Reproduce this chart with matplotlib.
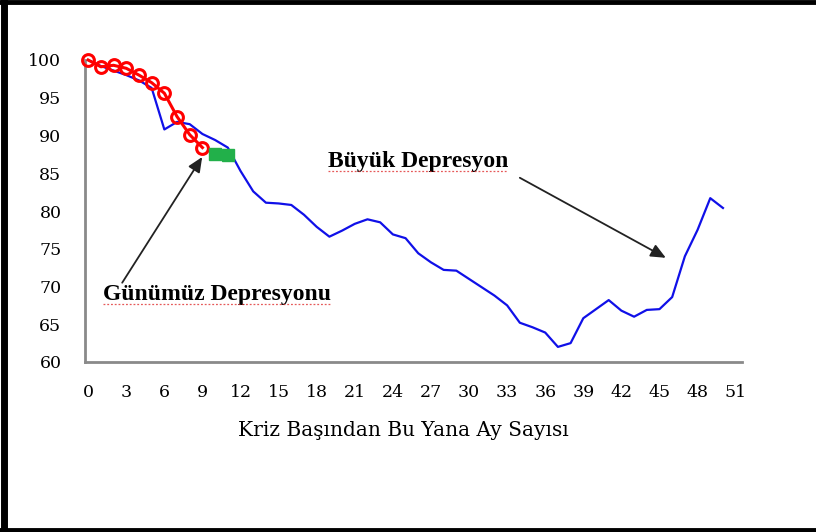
import matplotlib
matplotlib.use("Agg")
import matplotlib.pyplot as plt
from matplotlib.lines import Line2D

# ---- data ----
months_great = list(range(0, 51))
great_depression = [100, 99.2, 98.6, 98.0, 97.3, 96.3, 90.8, 91.8, 91.5, 90.2,
                    89.4, 88.4, 85.3, 82.6, 81.1, 81.0, 80.8, 79.5, 77.9, 76.6,
                    77.4, 78.3, 78.9, 78.5, 76.9, 76.4, 74.4, 73.2, 72.2, 72.1,
                    71.0, 69.9, 68.8, 67.5, 65.2, 64.6, 63.9, 62.0, 62.5, 65.8,
                    67.0, 68.2, 66.8, 66.0, 66.9, 67.0, 68.6, 74.0, 77.5, 81.7,
                    80.4]
months_current = list(range(0, 10))
current_depression = [100, 99.1, 99.3, 98.9, 98.0, 97.0, 95.6, 92.5, 90.1, 88.4]
months_recent = [10, 11]
recent_values = [87.6, 87.4]

x_ticks = list(range(0, 52, 3))
y_ticks = [60, 65, 70, 75, 80, 85, 90, 95, 100]
x_label = "Kriz Başından Bu Yana Ay Sayısı"
label_current = "Günümüz Depresyonu"
label_great = "Büyük Depresyon"

serif = ["DejaVu Serif"]
serif_b = ["Liberation Serif", "DejaVu Serif"]

fig = plt.figure(figsize=(8.16, 5.32), dpi=100)
ax = fig.add_axes([85/816, 1-362/532, (742-85)/816, (362-60)/532])

ax.plot(months_great, great_depression, color="#1010e8", lw=1.6, zorder=2)
ax.plot(months_current, current_depression, color="#ff0000", lw=2.2,
        marker="o", markersize=8.5, markerfacecolor="none",
        markeredgecolor="#ff0000", markeredgewidth=2.2, zorder=3, clip_on=False)
ax.plot(months_recent, recent_values, color="#22b04a", lw=2,
        marker="s", markersize=8, markerfacecolor="#22b04a",
        markeredgecolor="#22b04a", zorder=4, clip_on=False)

ax.set_xlim(-0.25, 51.5)
ax.set_ylim(60, 100)
ax.set_xticks(x_ticks)
ax.set_yticks(y_ticks)
ax.tick_params(length=0, labelsize=12.5)
ax.tick_params(axis="y", pad=17)
ax.tick_params(axis="x", pad=16)
for lbl in ax.get_xticklabels() + ax.get_yticklabels():
    lbl.set_fontfamily(serif)

for s in ["top", "right"]:
    ax.spines[s].set_visible(False)
for s in ["left", "bottom"]:
    ax.spines[s].set_color("#8a8a8a")
    ax.spines[s].set_linewidth(2)

ax.set_xlabel(x_label, fontsize=14.5, family=serif)
ax.xaxis.set_label_coords(0.484, -0.195)

ax.annotate("", xy=(8.98, 87.15), xytext=(2.68, 70.5),
            arrowprops=dict(arrowstyle="-|>,head_length=0.9,head_width=0.4",
                            color="#222222", lw=1.3, shrinkA=0, shrinkB=0))
ax.annotate("", xy=(45.5, 73.8), xytext=(34.0, 84.4),
            arrowprops=dict(arrowstyle="-|>,head_length=0.9,head_width=0.4",
                            color="#222222", lw=1.3, shrinkA=0, shrinkB=0))
t1 = ax.text(1.18, 68.9, label_current, fontsize=17, fontweight="bold",
             family=serif_b, ha="left", va="center")
t2 = ax.text(18.9, 86.5, label_great, fontsize=17, fontweight="bold",
             family=serif_b, ha="left", va="center")

# spell-check style red underlines beneath the annotation texts
fig.canvas.draw()
r = fig.canvas.get_renderer()
W, H = fig.bbox.width, fig.bbox.height
for t in (t1, t2):
    bb = t.get_window_extent(r)
    yline = (bb.y0 + 1) / H
    fig.add_artist(Line2D([bb.x0 / W, bb.x1 / W], [yline, yline],
                          color="#e03030", lw=0.9, ls=(0, (1.5, 1.5)),
                          alpha=0.8, transform=fig.transFigure))

# outer frame (left, top, bottom)
fig.add_artist(Line2D([3.5/816, 3.5/816], [0, 1], color="black", lw=5,
                      transform=fig.transFigure))
fig.add_artist(Line2D([0, 1], [1-2/532, 1-2/532], color="black", lw=3.5,
                      transform=fig.transFigure))
fig.add_artist(Line2D([0, 1], [2/532, 2/532], color="black", lw=3.5,
                      transform=fig.transFigure))

fig.savefig("out.png", dpi=100)
